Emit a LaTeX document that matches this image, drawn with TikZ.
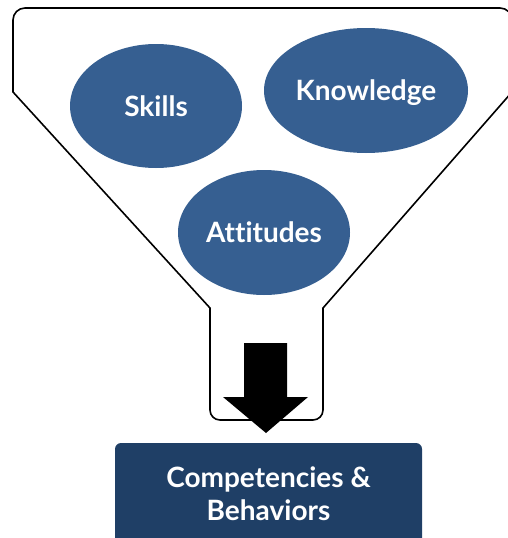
\documentclass[tikz,border=0pt]{standalone}
\usepackage{fontspec}
\setmainfont{Lato}[Ligatures=NoCommon]
\usetikzlibrary{shapes.geometric}
\definecolor{blobblue}{HTML}{365F91}
\definecolor{boxnavy}{HTML}{1F3F66}
\tikzset{
  blob/.style={ellipse, fill=blobblue, inner sep=0pt, text=white, text depth=0pt,
    font=\bfseries\fontsize{28}{33}\selectfont},
  outcome/.style={rectangle, rounded corners=6pt, fill=boxnavy, text=white,
    align=center, font=\bfseries\fontsize{28}{33}\selectfont},
  funnel/.style={draw=black, line width=1.6pt}
}
\begin{document}
\begin{tikzpicture}[x=1pt, y=-1pt]
        \useasboundingbox (0,0) rectangle (508,538);
        \clip (0,0) rectangle (508,538);

        \draw[funnel] (13,92) [rounded corners=12pt] -- (13,8) -- (512,8)
            [sharp corners] -- (512,92) -- (323,308)
            [rounded corners=10pt] -- (323,420) -- (210,420)
            [sharp corners] -- (210,308) -- cycle;
        %%%%%%%%%%

        \node[blob, minimum width=172, minimum height=124] (S) at (156,106) {Skills};
        \node[blob, minimum width=204, minimum height=125] (K) at (366,90.5) {Knowledge};
        \node[blob, minimum width=172, minimum height=125] (A) at (264,232.5) {Attitudes};
        %%%%%%%%%%

        \fill (244,343) -- (287,343) -- (287,397) -- (308,397) -- (266,433)
            -- (223,397) -- (244,397) -- cycle;

        \node[outcome, minimum width=307, minimum height=102] (C) at (268.5,494)
            {Competencies \&\\Behaviors};
    \end{tikzpicture}
\end{document}
